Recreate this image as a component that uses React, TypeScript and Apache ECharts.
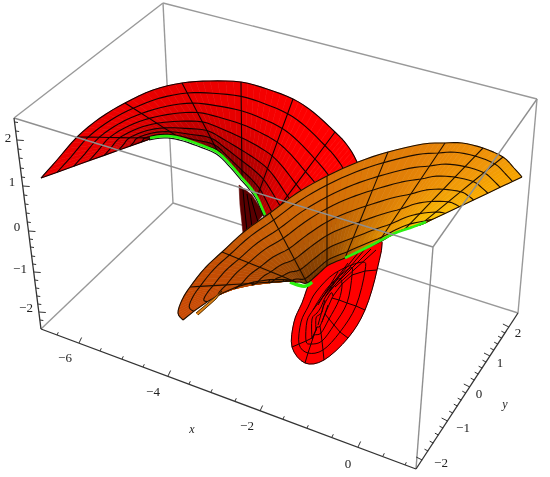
import React, { useEffect, useRef } from "react";
import * as echarts from "echarts";

type P = [number, number];

// ---- box edges
const backEdges: P[][] = [
  [[163, 3], [173, 203]],
  [[173, 203], [41, 329]],
  [[173, 203], [518, 313]],
  [[163, 3], [14, 118]],
  [[163, 3], [537, 99]],
  [[537, 99], [518, 313]],
];
const frontEdges: P[][] = [
  [[14, 118], [433, 247]],
  [[433, 247], [537, 99]],
  [[433, 247], [416, 469]],
];
const axisEdges: P[][] = [
  [[14, 118], [41, 329]],
  [[41, 329], [416, 469]],
  [[416, 469], [518, 313]],
];

// ---- tick marks: position on the axis, major flag
const zTickY = [122, 131, 140, 149, 158, 168, 177, 186, 195, 204, 213, 222, 231, 239, 247, 256, 264, 272, 280, 288, 296, 304, 312, 320];
const zTickMajor = [140, 186, 231, 272, 312];
const xTicks: P[] = [[57, 335], [79, 343], [100, 351], [122, 359], [143, 367], [168, 376], [189, 384], [211, 392], [235, 401], [260, 411], [283, 419], [307, 428], [332, 437], [358, 447], [383, 456], [405, 465]];
const xTickMajor = [79, 168, 260, 358];
const yTicks: P[] = [[422.2, 460], [428.1, 451], [433.3, 443], [438.5, 435], [443.1, 428], [447.6, 421], [452.8, 413], [457.4, 406], [461.3, 400], [465.9, 393], [469.8, 387], [474.3, 380], [478.3, 374], [482.2, 368], [486.1, 362], [490, 356], [493.9, 350], [497.8, 344], [501.7, 338], [505, 333], [508.9, 327]];
const yTickMajor = [422.2, 447.6, 469.8, 490, 508.9];

// ---- labels
const tickLabels: { t: string; p: P }[] = [
  { t: "2", p: [8, 137] }, { t: "1", p: [12, 181] }, { t: "0", p: [17, 226] }, { t: "−1", p: [20, 268] }, { t: "−2", p: [26, 307] },
  { t: "−6", p: [65, 357] }, { t: "−4", p: [153, 391] }, { t: "−2", p: [247, 425] }, { t: "0", p: [348, 463] },
  { t: "−2", p: [441, 462] }, { t: "−1", p: [463, 427] }, { t: "0", p: [479, 393] }, { t: "1", p: [500, 362] }, { t: "2", p: [518, 332] },
];
const axisNames: { t: string; p: P }[] = [
  { t: "x", p: [192, 429] },
  { t: "y", p: [505, 404] },
];

// ---- red arch: upper rim and inner rim, same stations
const archOuter: P[] = [[41, 178], [57, 160], [77, 137], [100, 118], [125, 103], [153, 90], [182, 83], [210, 81], [241, 82], [267, 89], [293, 99], [313, 112], [335, 132], [347, 145], [357, 162], [372, 200]];
const archInner: P[] = [[150, 139], [150.5, 138.5], [151, 138], [165, 136], [180, 138], [198, 144], [217, 150], [229, 163], [242, 178], [250, 187], [257, 197], [262, 208], [268, 222], [275, 232], [283, 240], [295, 250]];
const archLevels = [0, 0.15, 0.3, 0.44, 0.58, 0.71, 0.82, 0.92, 1];
const archRadials = [2, 4, 6, 8, 10, 12];
const archBow = archOuter.map(() => 0);
const archTop = ["#eb0000", "#eb0000", "#eb0000", "#eb0000", "#eb0000", "#e80000", "#e80000", "#eb0000", "#ee0000", "#f50000", "#fa0000", "#ff0000", "#ff0000", "#ff0000", "#ff0000", "#ff0000"];
const archBottom = ["#a00000", "#a00000", "#960000", "#8c0000", "#780000", "#6e0000", "#640000", "#640000", "#640000", "#6e0000", "#820000", "#aa0000", "#be0000", "#c80000", "#c80000", "#c80000"];

// ---- dark inner wall under the green rim
const wedge: P[] = [[239, 185], [240, 205], [243, 233], [252, 228], [264, 214], [252, 195]];
const wedgeLines: P[][] = [
  [[243, 190], [245, 212], [247, 231]],
  [[247, 194], [250, 212], [252, 227]],
  [[251, 198], [255, 212], [258, 222]],
];

// ---- green curve segments
const greenArch: P[] = [[150, 138], [165, 136], [180, 138], [198, 144], [217, 152], [229, 163], [242, 178], [250, 187], [257, 197], [262, 208], [265, 215]];
const greenLow: P[] = [[290, 282], [298, 285], [306, 286], [312, 282]];
const greenRight: P[] = [[345, 258], [370, 246], [393, 234], [410, 228], [426, 222]];

// ---- lower red lobe: rings from rim to centre
const lobeRings: P[][] = [
  [[380, 238], [377, 270], [365, 310], [348, 338], [324, 360], [305, 363], [292, 347], [294, 322], [302, 303], [314, 276], [345, 252]],
  [[362, 262], [365, 271], [356, 306], [340, 332], [323, 350], [308, 353], [299, 344], [301, 322], [308, 307], [316, 292], [335, 273]],
  [[350, 268], [352, 275], [347, 303], [334, 325], [322, 341], [311, 344], [306, 341], [307, 321], [313, 310], [319, 300], [330, 285]],
  [[338, 279], [342, 284], [339, 300], [329, 319], [321, 333], [314, 335], [312, 338], [312, 319], [317, 313], [321, 307], [326, 296]],
  [[331, 293], [333, 296], [332, 298], [325, 314], [320, 326], [317, 327], [316, 330], [316, 318], [319, 315], [322, 312], [324, 305]],
];
const lobeRadials = [1, 2, 3, 4, 5, 6];
const lobeBundle: P[][] = [
  [[376, 250], [335, 287]],
  [[371, 249], [330, 290]],
  [[365, 249], [326, 296]],
  [[358, 253], [322, 298]],
  [[348, 263], [313, 310]],
  [[338, 272], [318, 305]],
  [[325, 300], [318, 325]],
  [[328, 305], [322, 322]],
];

// ---- orange sheet: upper rim and lower rim, same stations
const sheetOuter: P[] = [[522, 177], [514, 168], [503, 157], [483, 148], [462, 143], [445, 143], [423, 144], [388, 152], [358, 162], [327, 176], [297, 193], [270, 213], [245, 231], [222, 252], [205, 268], [190, 287], [182, 300], [178, 313], [183, 320]];
const sheetInner: P[] = [[427, 222], [425, 223], [420, 225], [405, 229], [392, 235], [378, 243], [362, 250], [345, 258], [335, 262], [327, 266], [317, 275], [307, 283], [300, 282], [296, 282], [293, 281], [291, 281], [290, 281], [290, 281], [290, 280]];
const sheetLevels = [0, 0.1, 0.23, 0.36, 0.51, 0.66, 0.81, 0.94, 1];
const sheetRadials = [2, 3, 5, 7, 9, 11, 13, 15];
const sheetBow = [0, 0, 0, 0, 0, 0, 0, 0, 0, 0, 0, 0, 0, 0, 0, 0, -3, -8, -13];
const sheetTop = ["#f8a400", "#f5a000", "#f0980a", "#ee9008", "#ea8a08", "#e88608", "#e48008", "#e07c08", "#dc7808", "#d87008", "#d06a08", "#cc6408", "#c85c06", "#c45404", "#c44e04", "#c84c04", "#c84a04", "#c84a04", "#c84a04"];
const sheetBottom = ["#ffd000", "#ffd000", "#fccc00", "#f8c000", "#f0a800", "#e89a00", "#c87c00", "#a85c00", "#8c4800", "#7a3c00", "#703400", "#6a3000", "#7a3800", "#843e00", "#8a4200", "#8a4200", "#8a4200", "#8a4200", "#8a4200"];
const sheetFold: P[] = [[196, 313], [208, 303], [222, 291], [216, 299], [207, 307], [198, 315]];

// ---- helpers that turn the read points into drawn marks
function spline(pts: P[], k: number, closed = false): P[] {
  const n = pts.length;
  const at = (i: number) => (closed ? pts[(i + n) % n] : pts[Math.max(0, Math.min(n - 1, i))]);
  const out: P[] = [];
  const segs = closed ? n : n - 1;
  for (let i = 0; i < segs; i++) {
    const [a, b, c, d] = [at(i - 1), at(i), at(i + 1), at(i + 2)];
    for (let j = 0; j < k; j++) {
      const t = j / k;
      const f = (q: number) =>
        0.5 * (2 * b[q] + (c[q] - a[q]) * t + (2 * a[q] - 5 * b[q] + 4 * c[q] - d[q]) * t * t + (3 * b[q] - a[q] - 3 * c[q] + d[q]) * t * t * t);
      out.push([f(0), f(1)]);
    }
  }
  if (closed) out.push(out[0]);
  else out.push(pts[n - 1]);
  return out;
}
const hex = (c: string) => [1, 3, 5].map((i) => parseInt(c.slice(i, i + 2), 16));
const mix = (a: number[], b: number[], t: number) => a.map((v, i) => v + (b[i] - v) * t);
const rgb = (c: number[]) => `rgb(${c.map((v) => Math.round(v)).join(",")})`;

function mesh(outer: P[], inner: P[], levels: number[], radials: number[], top: string[], bottom: string[], power: number, bow: number[]) {
  const K = 4;
  const o = spline(outer, K);
  const n = spline(inner, K);
  const bowAt = (i: number) => {
    const s = Math.min(bow.length - 2, Math.floor(i / K));
    return bow[s] + (bow[s + 1] - bow[s]) * (i / K - s);
  };
  const at = (i: number, t: number): P => [
    o[i][0] + (n[i][0] - o[i][0]) * t,
    o[i][1] + (n[i][1] - o[i][1]) * t + bowAt(i) * 4 * t * (1 - t),
  ];
  const colourAt = (list: string[], i: number) => {
    const s = Math.min(list.length - 2, Math.floor(i / K));
    return mix(hex(list[s]), hex(list[s + 1]), i / K - s);
  };
  const cells: { pts: P[]; fill: string }[] = [];
  for (let i = 0; i < o.length - 1; i++) {
    for (let l = 0; l < levels.length - 1; l++) {
      const t = (levels[l] + levels[l + 1]) / 2;
      cells.push({
        pts: [at(i, levels[l]), at(i + 1, levels[l]), at(i + 1, levels[l + 1]), at(i, levels[l + 1])],
        fill: rgb(mix(colourAt(top, i + 0.5), colourAt(bottom, i + 0.5), Math.pow(t, power))),
      });
    }
  }
  const lines: P[][] = levels.map((lv) => o.map((_, i) => at(i, lv)));
  const radial = (i: number) => levels.map((lv) => at(i, lv));
  radials.forEach((r) => lines.push(radial(r * K)));
  lines.push(radial(0));
  lines.push(radial(o.length - 1));
  return { cells, lines };
}

function polySeries(z: number, polys: { pts: P[]; fill: string }[]) {
  return {
    type: "custom", z, silent: true, clip: false,
    data: polys.map((c) => c.pts[0]),
    renderItem: (params: any, api: any) => {
      const c = polys[params.dataIndex];
      return {
        type: "polygon",
        shape: { points: c.pts.map((p) => api.coord(p)) },
        style: { fill: c.fill, stroke: c.fill, lineWidth: 0.6 },
      };
    },
  };
}
function lineSeries(z: number, lines: P[][], stroke: string, lineWidth: number) {
  return {
    type: "custom", z, silent: true, clip: false,
    data: lines.map((l) => l[0]),
    renderItem: (params: any, api: any) => ({
      type: "polyline",
      shape: { points: lines[params.dataIndex].map((p) => api.coord(p)) },
      style: { fill: "none", stroke, lineWidth, lineJoin: "round" },
    }),
  };
}
function textSeries(z: number, items: { t: string; p: P }[], font: string) {
  return {
    type: "custom", z, silent: true, clip: false,
    data: items.map((i) => i.p),
    renderItem: (params: any, api: any) => {
      const it = items[params.dataIndex];
      const [x, y] = api.coord(it.p);
      return { type: "text", x, y, style: { text: it.t, font, fill: "#222", align: "center", verticalAlign: "middle" } };
    },
  };
}

export default function App() {
  const ref = useRef<HTMLDivElement>(null);
  useEffect(() => {
    const chart = echarts.init(ref.current!, undefined, { renderer: "svg" });
    const arch = mesh(archOuter, archInner, archLevels, archRadials, archTop, archBottom, 3, archBow);
    const sheet = mesh(sheetOuter, sheetInner, sheetLevels, sheetRadials, sheetTop, sheetBottom, 2.2, sheetBow);
    const lobeSmooth = lobeRings.map((r) => spline(r, 4, true));
    const lobeLines: P[][] = [...lobeSmooth, ...lobeRadials.map((s) => lobeRings.map((r) => r[s])), ...lobeBundle];
    const greenSmooth = spline(greenArch, 4);

    const zT: P[][] = zTickY.map((y) => {
      const x = 14 + ((y - 118) * 27) / 211;
      const len = zTickMajor.includes(y) ? 7 : 3.5;
      return [[x, y], [x + len, y + 0.5]];
    });
    const xT: P[][] = xTicks.map(([x, y]) => {
      const m = xTickMajor.includes(x) ? 1 : 0.5;
      return [[x, y], [x + 2.6 * m, y - 5.5 * m]];
    });
    const yT: P[][] = yTicks.map(([x, y]) => {
      const m = yTickMajor.includes(x) ? 1 : 0.6;
      return [[x, y], [x - 6 * m, y - 3 * m]];
    });

    chart.setOption({
      animation: false,
      backgroundColor: "#fff",
      grid: { left: 0, right: 0, top: 0, bottom: 0 },
      xAxis: { type: "value", min: 0, max: 550, show: false },
      yAxis: { type: "value", min: 0, max: 477, inverse: true, show: false },
      series: [
        lineSeries(1, backEdges, "#999", 1.4),
        polySeries(2, arch.cells),
        lineSeries(3, arch.lines, "#120000", 1.1),
        polySeries(4, [{ pts: wedge, fill: "#5a0000" }]),
        lineSeries(5, wedgeLines, "#000", 1),
        lineSeries(6, [greenSmooth.map((p) => [p[0] - 1, p[1] + 1.8] as P)], "#111", 1.2),
        lineSeries(7, [greenSmooth], "#2cf010", 2.6),
        polySeries(8, [{ pts: lobeSmooth[0], fill: "#ff0000" }]),
        lineSeries(9, lobeLines, "#200000", 1),
        lineSeries(10, [spline(greenLow, 4)], "#2cf010", 3.5),
        polySeries(11, sheet.cells),
        lineSeries(12, sheet.lines, "#1e0e00", 1.1),
        lineSeries(13, [spline(greenRight, 4)], "#2cf010", 2.6),
        polySeries(14, [{ pts: sheetFold, fill: "#e28412" }]),
        lineSeries(15, [sheetFold], "#2a1400", 0.8),
        lineSeries(16, frontEdges, "#8f8f8f", 1.4),
        lineSeries(17, axisEdges, "#333", 1.3),
        lineSeries(18, [...zT, ...xT, ...yT], "#333", 1),
        textSeries(19, tickLabels, "13px 'Liberation Serif'"),
        textSeries(19, axisNames, "italic 12px 'Liberation Serif'"),
      ],
    });
    return () => chart.dispose();
  }, []);
  return <div ref={ref} style={{ position: "fixed", left: 0, top: 0, width: 550, height: 477, filter: "blur(0.45px)" }} />;
}
